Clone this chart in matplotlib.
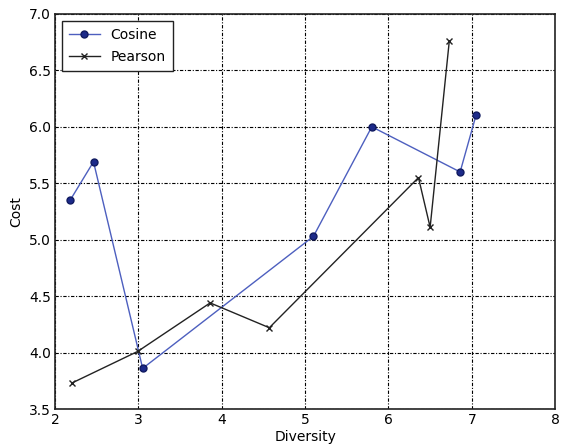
import matplotlib
matplotlib.use("Agg")
import matplotlib.pyplot as plt

# values
cos_x = [2.18, 2.46, 3.05, 5.10, 5.80, 6.86, 7.05]
cos_y = [5.35, 5.69, 3.86, 5.03, 6.00, 5.60, 6.10]
pear_x = [2.20, 2.99, 3.86, 4.57, 6.36, 6.50, 6.73]
pear_y = [3.73, 4.01, 4.44, 4.22, 5.55, 5.11, 6.76]

fig = plt.figure(figsize=(5.63, 4.48), dpi=100)
ax = fig.add_axes([0.098, 0.087, 0.888, 0.882])

ax.plot(cos_x, cos_y, color='#4d5fbf', linewidth=1.0, marker='o', markersize=5,
        markerfacecolor='#1c2a8a', markeredgecolor='#101a60', label='Cosine')
ax.plot(pear_x, pear_y, color='#222222', linewidth=1.0, marker='x', markersize=5,
        markeredgewidth=1.0, label='Pearson')

ax.set_xlim(2, 8)
ax.set_ylim(3.5, 7.0)
ax.set_xticks(range(2, 9))
ax.set_yticks([3.5, 4.0, 4.5, 5.0, 5.5, 6.0, 6.5, 7.0])
ax.set_yticklabels(['3.5', '4.0', '4.5', '5.0', '5.5', '6.0', '6.5', '7.0'])
ax.grid(True, color='black', linewidth=0.8, dashes=(3, 1.5, 1, 1.5))
ax.tick_params(labelsize=10, direction='in', length=0, pad=3)
for s in ax.spines.values():
    s.set_linewidth(1.2)
    s.set_color('#222222')

ax.set_xlabel('Diversity', fontsize=10, labelpad=2)
ax.set_ylabel('Cost', fontsize=10, labelpad=4)

leg = ax.legend(loc='upper left', fontsize=10, fancybox=False, framealpha=1,
                edgecolor='#222222', handlelength=2.2, borderpad=0.5,
                labelspacing=0.6)
leg.get_frame().set_linewidth(1.0)

fig.savefig('out.png', dpi=100)
